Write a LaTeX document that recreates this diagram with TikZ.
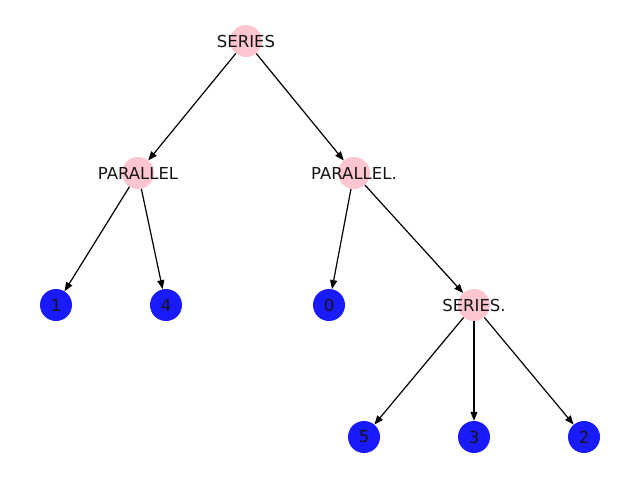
\documentclass[tikz,border=0pt]{standalone}
\usepackage{fontspec}
\setmainfont{DejaVu Sans}
\usetikzlibrary{arrows.meta}
\definecolor{opnode}{RGB}{255,198,208}
\definecolor{leafnode}{RGB}{26,26,255}
\definecolor{labeltext}{RGB}{20,20,20}
\tikzset{
  opbox/.style={circle, fill=opnode, minimum size=32pt, inner sep=0pt},
  leafbox/.style={circle, fill=leafnode, minimum size=32pt, inner sep=0pt},
  tag/.style={text=labeltext, font=\fontsize{16.5}{20}\selectfont, inner sep=0pt},
  edge/.style={draw=black, line width=1.2pt, -{Stealth[length=9pt, width=7pt, inset=0pt]}},
}
\begin{document}
\begin{tikzpicture}[x=1pt, y=-1pt]
\useasboundingbox (0,0) rectangle (640,480);
% vertices
\node[opbox]   (s)  at (246,41)  {};
\node[opbox]   (p1) at (138,173) {};
\node[opbox]   (p2) at (354,173) {};
\node[leafbox] (n1) at (56,305)  {};
\node[leafbox] (n4) at (166,305) {};
\node[leafbox] (n0) at (329,305) {};
\node[opbox]   (s2) at (474,305) {};
\node[leafbox] (n5) at (364,437) {};
\node[leafbox] (n3) at (474,437) {};
\node[leafbox] (n2) at (584,437) {};
% directed edges
\draw[edge] (s) -- (p1);
\draw[edge] (s) -- (p2);
\draw[edge] (p1) -- (n1);
\draw[edge] (p1) -- (n4);
\draw[edge] (p2) -- (n0);
\draw[edge] (p2) -- (s2);
\draw[edge] (s2) -- (n5);
\draw[edge] (s2) -- (n3);
\draw[edge] (s2) -- (n2);
% labels
\node[tag] (ls)  at (s)  {SERIES};
\node[tag] (lp1) at (p1) {PARALLEL};
\node[tag] (lp2) at (p2) {PARALLEL.};
\node[tag] (l1)  at (n1) {1};
\node[tag] (l4)  at (n4) {4};
\node[tag] (l0)  at (n0) {0};
\node[tag] (ls2) at (s2) {SERIES.};
\node[tag] (l5)  at (n5) {5};
\node[tag] (l3)  at (n3) {3};
\node[tag] (l2)  at (n2) {2};
\end{tikzpicture}
\end{document}
